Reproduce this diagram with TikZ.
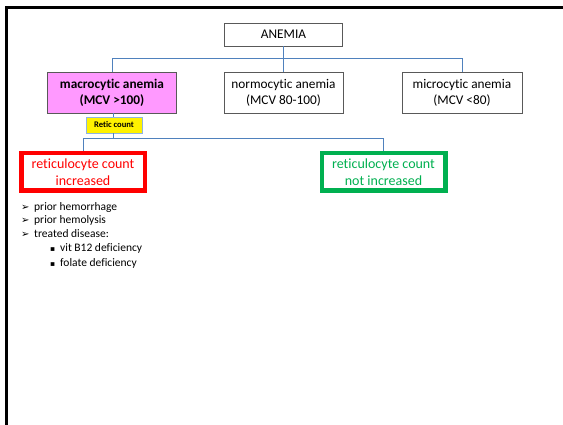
\documentclass[tikz,border=0pt]{standalone}
\usepackage{fontspec}
\setmainfont{Carlito}[Ligatures=CommonOff]
\newfontfamily\symfont{DejaVu Sans}
\usepackage{tikz}
\usetikzlibrary{positioning}
\definecolor{linkblue}{HTML}{4F81BD}
\definecolor{boxgray}{HTML}{595959}
\definecolor{macropink}{HTML}{FF99FF}
\definecolor{reticblue}{HTML}{8EB4E3}
\definecolor{incred}{HTML}{FF0000}
\definecolor{notgreen}{HTML}{00B050}
\tikzstyle{box} = [rectangle, draw=boxgray, line width=0.8pt, align=center, inner sep=0pt, font=\fontsize{13.3}{16}\selectfont]
\tikzstyle{result} = [rectangle, line width=4.5pt, fill=white, align=center, inner sep=0pt, minimum width=123.5pt, minimum height=37.5pt, font=\fontsize{14}{17}\selectfont]
\tikzstyle{item} = [anchor=west, inner sep=0pt, font=\fontsize{11.5}{13}\selectfont]
\tikzstyle{link} = [draw=linkblue, line width=0.8pt]

\begin{document}
\begin{tikzpicture}[x=1pt,y=-1pt]
		\useasboundingbox (0,0) rectangle (563,425);
		\draw[line width=2.6pt] (6.5,425) -- (6.5,7.8) -- (563,7.8);
		\node[box,minimum width=118pt,minimum height=23pt] (anemia) at (283.5,34.5) {ANEMIA};
		\node[box,fill=macropink,minimum width=129pt,minimum height=41pt,font=\fontsize{13.3}{16}\selectfont\bfseries] (macro) at (112,92.5) {macrocytic anemia\\(MCV >100)};
		\node[box,minimum width=119pt,minimum height=41pt] (normo) at (283.5,92.5) {normocytic anemia\\(MCV 80-100)};
		\node[box,minimum width=120pt,minimum height=41pt] (micro) at (462,92.5) {microcytic anemia\\(MCV <80)};
		\node[rectangle,draw=reticblue,line width=0.8pt,fill=yellow,inner sep=0pt,minimum width=56pt,minimum height=16pt,font=\fontsize{8.6}{9}\selectfont\bfseries] (retic) at (114,125) {Retic count};
		\node[result,draw=incred,text=incred] (inc) at (83,172) {reticulocyte count\\increased};
		\node[result,draw=notgreen,text=notgreen] (notinc) at (383.5,172) {reticulocyte count\\not increased};
		\node[item] (hem) at (21,207) {\makebox[13pt][l]{\symfont\fontsize{10}{10}\selectfont ➢}prior hemorrhage};
		\node[item] (hemol) at (21,220.5) {\makebox[13pt][l]{\symfont\fontsize{10}{10}\selectfont ➢}prior hemolysis};
		\node[item] (treat) at (21,234) {\makebox[13pt][l]{\symfont\fontsize{10}{10}\selectfont ➢}treated disease:};
		\node[item] (b12) at (50,248.5) {\makebox[10pt][l]{\symfont\fontsize{7.5}{7.5}\selectfont ▪}vit B12 deficiency};
		\node[item] (fol) at (50,263) {\makebox[10pt][l]{\symfont\fontsize{7.5}{7.5}\selectfont ▪}folate deficiency};
		\coordinate (bus1) at (283.5,58);
		\coordinate (bus2) at (113,138.5);
		\draw[link] (anemia.south) -- (bus1);
		\draw[link] (bus1) -| (macro.north);
		\draw[link] (bus1) -- (normo.north);
		\draw[link] (bus1) -| (micro.north);
		\draw[link] (macro.south -| bus2) -- (retic.north -| bus2);
		\draw[link] (retic.south -| bus2) -- (bus2);
		\draw[link] (bus2) -| (inc.north);
		\draw[link] (bus2) -| (notinc.north);
	\end{tikzpicture}
\end{document}
